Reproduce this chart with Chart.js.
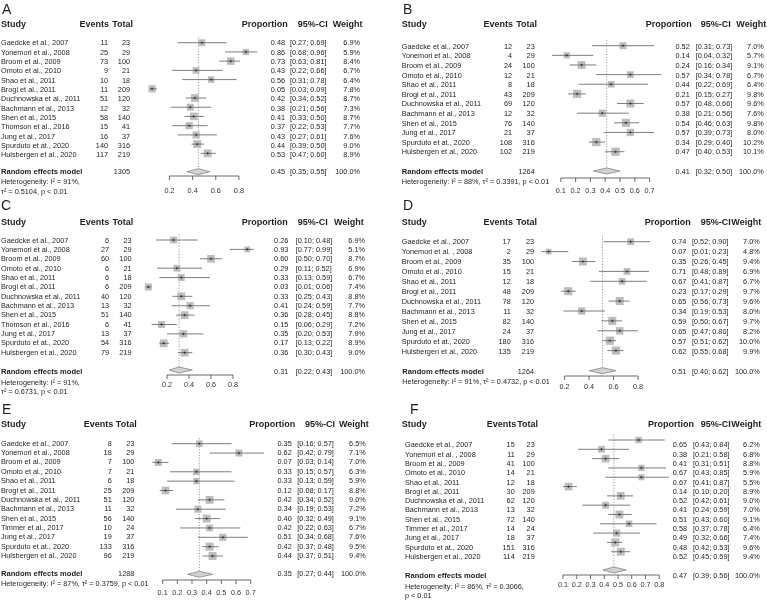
<!DOCTYPE html>
<html>
<head>
<meta charset="utf-8">
<script src="https://cdn.jsdelivr.net/npm/chart.js@4.4.0/dist/chart.umd.min.js"></script>
<style>
  body { margin: 0; background: #fff; }
  #page { position: relative; width: 767px; height: 600px; overflow: hidden; }
  .panel { position: absolute; height: 200px; }
</style>
</head>
<body>
<div id="page">
  <div class="panel" style="left:0;top:0;width:383px"><canvas id="panelA" width="383" height="200"></canvas></div>
  <div class="panel" style="left:383px;top:0;width:384px"><canvas id="panelB" width="384" height="200"></canvas></div>
  <div class="panel" style="left:0;top:200px;width:383px"><canvas id="panelC" width="383" height="200"></canvas></div>
  <div class="panel" style="left:383px;top:200px;width:384px"><canvas id="panelD" width="384" height="200"></canvas></div>
  <div class="panel" style="left:0;top:400px;width:383px"><canvas id="panelE" width="383" height="200"></canvas></div>
  <div class="panel" style="left:383px;top:400px;width:384px"><canvas id="panelF" width="384" height="200"></canvas></div>
</div>
<script>
  // ---- panel A
  const studiesA = ['Gaedcke et al., 2007', 'Yonemori et al., 2008', 'Broom et al., 2009', 'Omoto et al., 2010', 'Shao et al., 2011', 'Brogi et al., 2011', 'Duchnowska et al., 2011', 'Bachmann et al., 2013', 'Shen et al., 2015', 'Thomson et al., 2016', 'Jung et al., 2017', 'Spurduto et at., 2020', 'Hulsbergen et al., 2020'];
  const eventsA = [11, 25, 73, 9, 10, 11, 51, 12, 58, 15, 16, 140, 117];
  const totalA = [23, 29, 100, 21, 18, 209, 120, 32, 140, 41, 37, 316, 219];
  const propA = [0.48, 0.86, 0.73, 0.43, 0.56, 0.05, 0.42, 0.38, 0.41, 0.37, 0.43, 0.44, 0.53];
  const lowA = [0.27, 0.68, 0.63, 0.22, 0.31, 0.03, 0.34, 0.21, 0.33, 0.22, 0.27, 0.39, 0.47];
  const highA = [0.69, 0.96, 0.81, 0.66, 0.78, 0.09, 0.52, 0.56, 0.50, 0.53, 0.61, 0.50, 0.60];
  const weightA = [6.9, 5.9, 8.4, 6.7, 6.4, 7.8, 8.7, 7.3, 8.7, 7.7, 7.6, 9.0, 8.9];
  const pooledA = [0.45, 0.35, 0.55];
  const pooledTotalA = 1305;
  const hetA = ['Heterogeneity: I² = 91%,', 'τ² = 0.5104, p < 0.01'];
  const ticksA = [0.2, 0.4, 0.6, 0.8];

  // ---- panel B
  const studiesB = ['Gaedcke et al., 2007', 'Yonemori et al., 2008', 'Broom et al., 2009', 'Omoto et al., 2010', 'Shao et al., 2011', 'Brogi et al., 2011', 'Duchnowska et al., 2011', 'Bachmann et al., 2013', 'Shen et al., 2015', 'Jung et al., 2017', 'Spurduto et at., 2020', 'Hulsbergen et al., 2020'];
  const eventsB = [12, 4, 24, 12, 8, 43, 69, 12, 76, 21, 108, 102];
  const totalB = [23, 29, 100, 21, 18, 209, 120, 32, 140, 37, 316, 219];
  const propB = [0.52, 0.14, 0.24, 0.57, 0.44, 0.21, 0.57, 0.38, 0.54, 0.57, 0.34, 0.47];
  const lowB = [0.31, 0.04, 0.16, 0.34, 0.22, 0.15, 0.48, 0.21, 0.46, 0.39, 0.29, 0.40];
  const highB = [0.73, 0.32, 0.34, 0.78, 0.69, 0.27, 0.66, 0.56, 0.63, 0.73, 0.40, 0.53];
  const weightB = [7.0, 5.7, 9.1, 6.7, 6.4, 9.8, 9.6, 7.6, 9.8, 8.0, 10.2, 10.1];
  const pooledB = [0.41, 0.32, 0.50];
  const pooledTotalB = 1264;
  const hetB = ['Heterogeneity: I² = 88%, τ² = 0.3391, p < 0.01'];
  const ticksB = [0.1, 0.2, 0.3, 0.4, 0.5, 0.6, 0.7];

  // ---- panel C
  const studiesC = ['Gaedcke et al., 2007', 'Yonemori et al., 2008', 'Broom et al., 2009', 'Omoto et al., 2010', 'Shao et al., 2011', 'Brogi et al., 2011', 'Duchnowska et al., 2011', 'Bachmann et al., 2013', 'Shen et al., 2015', 'Thomson et al., 2016', 'Jung et al., 2017', 'Spurduto et at., 2020', 'Hulsbergen et al., 2020'];
  const eventsC = [6, 27, 60, 6, 6, 6, 40, 13, 51, 6, 13, 54, 79];
  const totalC = [23, 29, 100, 21, 18, 209, 120, 32, 140, 41, 37, 316, 219];
  const propC = [0.26, 0.93, 0.60, 0.29, 0.33, 0.03, 0.33, 0.41, 0.36, 0.15, 0.35, 0.17, 0.36];
  const lowC = [0.10, 0.77, 0.50, 0.11, 0.13, 0.01, 0.25, 0.24, 0.28, 0.06, 0.20, 0.13, 0.30];
  const highC = [0.48, 0.99, 0.70, 0.52, 0.59, 0.06, 0.43, 0.59, 0.45, 0.29, 0.53, 0.22, 0.43];
  const weightC = [6.9, 5.1, 8.7, 6.9, 6.7, 7.4, 8.8, 7.7, 8.8, 7.2, 7.9, 8.9, 9.0];
  const pooledC = [0.31, 0.22, 0.43];
  const pooledTotalC = null;
  const hetC = ['Heterogeneity: I² = 91%,', 'τ² = 0.6731, p < 0.01'];
  const ticksC = [0.2, 0.4, 0.6, 0.8];

  // ---- panel D
  const studiesD = ['Gaedcke et al., 2007', 'Yonemori et al. , 2008', 'Broom et al., 2009', 'Omoto et al., 2010', 'Shao et al., 2011', 'Brogi et al., 2011', 'Duchnowska et al., 2011', 'Bachmann et al., 2013', 'Shen et al., 2015', 'Jung et al., 2017', 'Spurduto et at., 2020', 'Hulsbergen et al., 2020'];
  const eventsD = [17, 2, 35, 15, 12, 48, 78, 11, 82, 24, 180, 135];
  const totalD = [23, 29, 100, 21, 18, 209, 120, 32, 140, 37, 316, 219];
  const propD = [0.74, 0.07, 0.35, 0.71, 0.67, 0.23, 0.65, 0.34, 0.59, 0.65, 0.57, 0.62];
  const lowD = [0.52, 0.01, 0.26, 0.48, 0.41, 0.17, 0.56, 0.19, 0.50, 0.47, 0.51, 0.55];
  const highD = [0.90, 0.23, 0.45, 0.89, 0.87, 0.29, 0.73, 0.53, 0.67, 0.80, 0.62, 0.68];
  const weightD = [7.0, 4.8, 9.4, 6.9, 6.7, 9.7, 9.6, 8.0, 9.7, 8.2, 10.0, 9.9];
  const pooledD = [0.51, 0.40, 0.62];
  const pooledTotalD = 1264;
  const hetD = ['Heterogeneity: I² = 91%, τ² = 0.4732, p < 0.01'];
  const ticksD = [0.2, 0.4, 0.6, 0.8];

  // ---- panel E
  const studiesE = ['Gaedcke et al., 2007', 'Yonemori et al., 2008', 'Broom et al., 2009', 'Omoto et al., 2010', 'Shao et al., 2011', 'Brogi et al., 2011', 'Duchnowska et al., 2011', 'Bachmann et al., 2013', 'Shen et al., 2015', 'Timmer et al., 2017', 'Jung et al., 2017', 'Spurduto et at., 2020', 'Hulsbergen et al., 2020'];
  const eventsE = [8, 18, 7, 7, 6, 25, 51, 11, 56, 10, 19, 133, 96];
  const totalE = [23, 29, 100, 21, 18, 209, 120, 32, 140, 24, 37, 316, 219];
  const propE = [0.35, 0.62, 0.07, 0.33, 0.33, 0.12, 0.42, 0.34, 0.40, 0.42, 0.51, 0.42, 0.44];
  const lowE = [0.16, 0.42, 0.03, 0.15, 0.13, 0.08, 0.34, 0.19, 0.32, 0.22, 0.34, 0.37, 0.37];
  const highE = [0.57, 0.79, 0.14, 0.57, 0.59, 0.17, 0.52, 0.53, 0.49, 0.63, 0.68, 0.48, 0.51];
  const weightE = [6.5, 7.1, 7.0, 6.3, 5.9, 8.8, 9.0, 7.2, 9.1, 6.7, 7.6, 9.5, 9.4];
  const pooledE = [0.35, 0.27, 0.44];
  const pooledTotalE = 1288;
  const hetE = ['Heterogeneity: I² = 87%, τ² = 0.3759, p < 0.01'];
  const ticksE = [0.1, 0.2, 0.3, 0.4, 0.5, 0.6, 0.7];

  // ---- panel F
  const studiesF = ['Gaedcke et al., 2007', 'Yonemori et al. , 2008', 'Broom et al., 2009', 'Omoto et al., 2010', 'Shao et al., 2011', 'Brogi et al., 2011', 'Duchnowska et al., 2011', 'Bachmann et al., 2013', 'Shen et al., 2015', 'Timmer et al., 2017', 'Jung et al., 2017', 'Spurduto et at., 2020', 'Hulsbergen et al., 2020'];
  const eventsF = [15, 11, 41, 14, 12, 30, 62, 13, 72, 14, 18, 151, 114];
  const totalF = [23, 29, 100, 21, 18, 209, 120, 32, 140, 24, 37, 316, 219];
  const propF = [0.65, 0.38, 0.41, 0.67, 0.67, 0.14, 0.52, 0.41, 0.51, 0.58, 0.49, 0.48, 0.52];
  const lowF = [0.43, 0.21, 0.31, 0.43, 0.41, 0.10, 0.42, 0.24, 0.43, 0.37, 0.32, 0.42, 0.45];
  const highF = [0.84, 0.58, 0.51, 0.85, 0.87, 0.20, 0.61, 0.59, 0.60, 0.78, 0.66, 0.53, 0.59];
  const weightF = [6.2, 6.8, 8.8, 5.9, 5.5, 8.9, 9.0, 7.0, 9.1, 6.4, 7.4, 9.6, 9.4];
  const pooledF = [0.47, 0.39, 0.56];
  const pooledTotalF = null;
  const hetF = ['Heterogeneity: I² = 86%, τ² = 0.3066,', 'p < 0.01'];
  const ticksF = [0.1, 0.2, 0.3, 0.4, 0.5, 0.6, 0.7, 0.8];

  const FONT = '"Liberation Sans", Arial, Helvetica, sans-serif';
  const INK = '#1e1e1e';

  function forest(id, letter, d, L) {
    const canvas = document.getElementById(id);
    const W = canvas.width, H = canvas.height;
    const n = d.study.length;
    const lastY = L.plotTop + (n - 1) * L.plotGap;
    const rowOf = py => (py - L.plotTop) / L.plotGap;   // pixel -> row units on the y scale
    const side = d.weight.map(w => 2.6 * Math.sqrt(w));

    const text = (ctx, s, x, y, align, font) => {
      ctx.font = font;
      ctx.textAlign = align;
      ctx.fillText(s, x, y);
    };

    const forestPlugin = {
      id: 'forest' + letter,
      beforeDatasetsDraw(chart) {
        const { ctx, scales: { x, y } } = chart;
        ctx.save();
        ctx.strokeStyle = '#808080';
        ctx.lineWidth = 0.8;
        ctx.setLineDash([1.2, 1.6]);
        const px = x.getPixelForValue(d.pooled[0]);
        ctx.beginPath();
        ctx.moveTo(px, y.getPixelForValue(-0.6));
        ctx.lineTo(px, y.getPixelForValue(rowOf(L.reY)));
        ctx.stroke();
        ctx.restore();
      },
      afterDatasetsDraw(chart) {
        const { ctx, scales: { x, y } } = chart;
        ctx.save();
        // confidence intervals
        ctx.strokeStyle = '#6e6e6e';
        ctx.lineWidth = 0.9;
        d.low.forEach((lo, i) => {
          const py = y.getPixelForValue(i);
          ctx.beginPath();
          ctx.moveTo(x.getPixelForValue(lo), py);
          ctx.lineTo(x.getPixelForValue(d.high[i]), py);
          ctx.stroke();
        });
        // small centre marks
        ctx.strokeStyle = '#2a2a2a';
        ctx.lineWidth = 0.7;
        d.prop.forEach((p, i) => {
          const px = x.getPixelForValue(p), py = y.getPixelForValue(i);
          ctx.beginPath();
          ctx.moveTo(px - 1.3, py); ctx.lineTo(px + 1.3, py);
          ctx.moveTo(px, py - 1.3); ctx.lineTo(px, py + 1.3);
          ctx.stroke();
        });
        // pooled diamond
        const ry = y.getPixelForValue(rowOf(L.reY));
        ctx.beginPath();
        ctx.moveTo(x.getPixelForValue(d.pooled[1]), ry);
        ctx.lineTo(x.getPixelForValue(d.pooled[0]), ry - 3);
        ctx.lineTo(x.getPixelForValue(d.pooled[2]), ry);
        ctx.lineTo(x.getPixelForValue(d.pooled[0]), ry + 3);
        ctx.closePath();
        ctx.fillStyle = '#d2d2d2';
        ctx.fill();
        ctx.strokeStyle = '#858585';
        ctx.lineWidth = 0.8;
        ctx.stroke();
        // axis
        const ay = y.getPixelForValue(rowOf(L.axisY));
        ctx.strokeStyle = '#444';
        ctx.lineWidth = 0.8;
        ctx.beginPath();
        ctx.moveTo(x.getPixelForValue(d.ticks[0]), ay);
        ctx.lineTo(x.getPixelForValue(d.ticks[d.ticks.length - 1]), ay);
        d.ticks.forEach(t => {
          ctx.moveTo(x.getPixelForValue(t), ay);
          ctx.lineTo(x.getPixelForValue(t), ay + 4);
        });
        ctx.stroke();
        ctx.fillStyle = '#333';
        ctx.textBaseline = 'middle';
        d.ticks.forEach(t => text(ctx, t.toFixed(1), x.getPixelForValue(t), L.labelY, 'center', '7.3px ' + FONT));
        ctx.restore();
      },
      afterDraw(chart) {
        const { ctx } = chart;
        ctx.save();
        ctx.fillStyle = INK;
        ctx.textBaseline = 'middle';
        const norm = '7.3px ' + FONT, bold = 'bold 9px ' + FONT;
        text(ctx, letter, L.letterX, L.letterY, 'left', '14px ' + FONT);
        text(ctx, 'Study', L.headX, L.headY, 'left', bold);
        text(ctx, 'Events', L.evHR, L.headY, 'right', bold);
        text(ctx, 'Total', L.totHR, L.headY, 'right', bold);
        text(ctx, 'Proportion', L.propHL, L.headY, 'left', bold);
        text(ctx, '95%-CI', L.ciHL, L.headY, 'left', bold);
        text(ctx, 'Weight', L.wtHL, L.headY, 'left', bold);
        d.study.forEach((s, i) => {
          const ty = L.textTop + i * L.textGap;
          text(ctx, s, L.nameX, ty, 'left', norm);
          text(ctx, String(d.events[i]), L.evR, ty, 'right', norm);
          text(ctx, String(d.total[i]), L.totR, ty, 'right', norm);
          text(ctx, d.prop[i].toFixed(2), L.propR, ty, 'right', norm);
          text(ctx, '[' + d.low[i].toFixed(2) + '; ' + d.high[i].toFixed(2) + ']', L.ciL, ty, 'left', norm);
          text(ctx, d.weight[i].toFixed(1) + '%', L.wtR, ty, 'right', norm);
        });
        text(ctx, 'Random effects model', L.reX, L.reTextY, 'left', 'bold 7.6px ' + FONT);
        if (d.pooledTotal) text(ctx, String(d.pooledTotal), L.totR, L.reTextY, 'right', norm);
        text(ctx, d.pooled[0].toFixed(2), L.propR, L.reTextY, 'right', norm);
        text(ctx, '[' + d.pooled[1].toFixed(2) + '; ' + d.pooled[2].toFixed(2) + ']', L.ciL, L.reTextY, 'left', norm);
        text(ctx, '100.0%', L.wtR, L.reTextY, 'right', norm);
        d.het.forEach((h, i) => text(ctx, h, L.reX, L.hetY[i], 'left', norm));
        ctx.restore();
      }
    };

    return new Chart(canvas, {
      type: 'scatter',
      data: {
        datasets: [{
          data: d.prop.map((p, i) => ({ x: p, y: i })),
          pointStyle: 'rect',
          pointRadius: c => side[c.dataIndex] / Math.SQRT2,
          pointHoverRadius: c => side[c.dataIndex] / Math.SQRT2,
          backgroundColor: '#bdbdbd',
          borderWidth: 0,
          clip: false,
        }],
      },
      options: {
        responsive: false,
        animation: false,
        events: [],
        layout: {
          padding: { left: L.x0, right: W - L.x0 - L.k, top: L.plotTop, bottom: H - lastY },
        },
        scales: {
          x: { type: 'linear', min: 0, max: 1, display: false },
          y: { type: 'linear', min: 0, max: n - 1, reverse: true, display: false },
        },
        plugins: { legend: { display: false }, tooltip: { enabled: false } },
      },
      plugins: [forestPlugin],
    });
  }

  forest('panelA', 'A',
    { study: studiesA, events: eventsA, total: totalA, prop: propA, low: lowA, high: highA, weight: weightA, pooled: pooledA, pooledTotal: pooledTotalA, het: hetA, ticks: ticksA },
    { letterX: 2, letterY: 10, headX: 1, headY: 24.3, nameX: 1, reX: 1, evHR: 109, totHR: 133, evR: 108, totR: 130,
      propHL: 241.7, ciHL: 297.7, wtHL: 332.7, propR: 285, ciL: 290, wtR: 360,
      textTop: 43.3, textGap: 9.33, reTextY: 172, hetY: [182, 192],
      x0: 146.3, k: 115.8, plotTop: 42.7, plotGap: 9.22, reY: 171.7, axisY: 176, labelY: 190.5 });

  forest('panelB', 'B',
    { study: studiesB, events: eventsB, total: totalB, prop: propB, low: lowB, high: highB, weight: weightB, pooled: pooledB, pooledTotal: pooledTotalB, het: hetB, ticks: ticksB },
    { letterX: 20, letterY: 10, headX: 18.7, headY: 24.3, nameX: 18.7, reX: 18.7, evHR: 130, totHR: 154, evR: 129, totR: 151.7,
      propHL: 262.7, ciHL: 317.7, wtHL: 353.3, propR: 306.7, ciL: 312.7, wtR: 380.7,
      textTop: 46.7, textGap: 9.6, reTextY: 172.3, hetY: [182],
      x0: 163, k: 148, plotTop: 45.7, plotGap: 9.64, reY: 171, axisY: 178, labelY: 191 });

  forest('panelC', 'C',
    { study: studiesC, events: eventsC, total: totalC, prop: propC, low: lowC, high: highC, weight: weightC, pooled: pooledC, pooledTotal: pooledTotalC, het: hetC, ticks: ticksC },
    { letterX: 1, letterY: 6.5, headX: 1, headY: 22.7, nameX: 1, reX: 1, evHR: 109.3, totHR: 133.3, evR: 109, totR: 131.5,
      propHL: 241.7, ciHL: 297.7, wtHL: 334, propR: 288.3, ciL: 295.7, wtR: 365,
      textTop: 40.7, textGap: 9.33, reTextY: 171.7, hetY: [182.7, 192.3],
      x0: 145, k: 110, plotTop: 40, plotGap: 9.39, reY: 170, axisY: 175, labelY: 185 });

  forest('panelD', 'D',
    { study: studiesD, events: eventsD, total: totalD, prop: propD, low: lowD, high: highD, weight: weightD, pooled: pooledD, pooledTotal: pooledTotalD, het: hetD, ticks: ticksD },
    { letterX: 20, letterY: 6.5, headX: 18.7, headY: 22.7, nameX: 18.7, reX: 19.3, evHR: 130, totHR: 154, evR: 127.7, totR: 151,
      propHL: 261.7, ciHL: 317.7, wtHL: 348.3, propR: 303.3, ciL: 309, wtR: 376.7,
      textTop: 42.3, textGap: 9.95, reTextY: 171.7, hetY: [181.7],
      x0: 157.1, k: 122.4, plotTop: 41.7, plotGap: 9.9, reY: 170.7, axisY: 176, labelY: 186.7 });

  forest('panelE', 'E',
    { study: studiesE, events: eventsE, total: totalE, prop: propE, low: lowE, high: highE, weight: weightE, pooled: pooledE, pooledTotal: pooledTotalE, het: hetE, ticks: ticksE },
    { letterX: 2, letterY: 10, headX: 1, headY: 25, nameX: 1, reX: 1, evHR: 113.3, totHR: 136.7, evR: 111.7, totR: 134.3,
      propHL: 249.3, ciHL: 305, wtHL: 339, propR: 291.7, ciL: 297.3, wtR: 365.7,
      textTop: 43.7, textGap: 9.36, reTextY: 174.3, hetY: [184],
      x0: 148, k: 146.7, plotTop: 43.7, plotGap: 9.36, reY: 174.3, axisY: 180, labelY: 193.3 });

  forest('panelF', 'F',
    { study: studiesF, events: eventsF, total: totalF, prop: propF, low: lowF, high: highF, weight: weightF, pooled: pooledF, pooledTotal: pooledTotalF, het: hetF, ticks: ticksF },
    { letterX: 27, letterY: 10, headX: 18.7, headY: 25, nameX: 22, reX: 22, evHR: 133.3, totHR: 155, evR: 131.7, totR: 151.7,
      propHL: 265, ciHL: 317.7, wtHL: 348.3, propR: 304, ciL: 310, wtR: 376.7,
      textTop: 45.3, textGap: 9.31, reTextY: 175.7, hetY: [186.7, 196],
      x0: 166.3, k: 137.4, plotTop: 40, plotGap: 9.31, reY: 170, axisY: 175, labelY: 185 });
</script>
</body>
</html>
